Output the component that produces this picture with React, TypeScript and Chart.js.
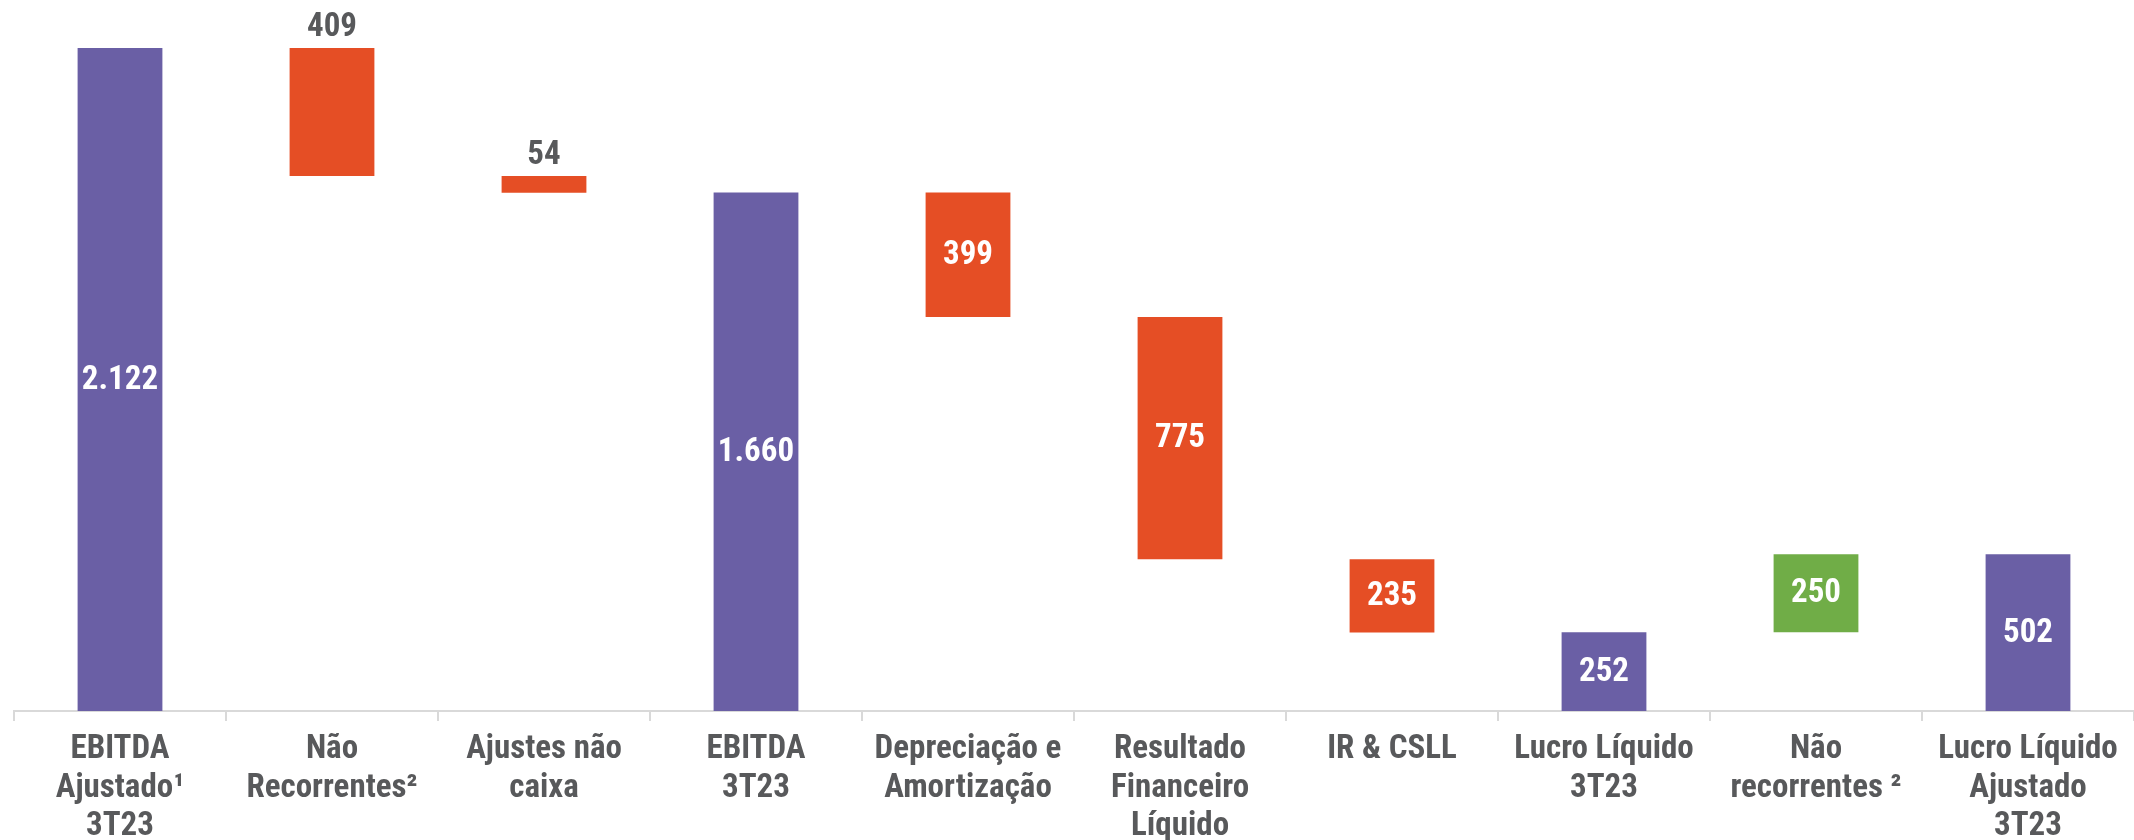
import React, { useEffect, useRef } from "react";
import { Chart, registerables } from "chart.js";

Chart.register(...registerables);

const categories: string[][] = [
  ["EBITDA", "Ajustado¹", "3T23"],
  ["Não", "Recorrentes²"],
  ["Ajustes não", "caixa"],
  ["EBITDA", "3T23"],
  ["Depreciação e", "Amortização"],
  ["Resultado", "Financeiro", "Líquido"],
  ["IR & CSLL"],
  ["Lucro Líquido", "3T23"],
  ["Não", "recorrentes ²"],
  ["Lucro Líquido", "Ajustado", "3T23"],
];

// "total" bars start at zero; "delta" bars float from the running level
const kinds = ["total", "delta", "delta", "total", "delta", "delta", "delta", "total", "delta", "total"];
const values = [2122, -409, -54, 1660, -399, -775, -235, 252, 250, 502];
const labelOutside = [false, true, true, false, false, false, false, false, false, false];

const PURPLE = "#6A5FA5";
const ORANGE = "#E54E25";
const GREEN = "#70AD47";
const GRAY = "#58595B";
const FONT = "'Roboto Condensed', 'Liberation Sans Narrow', 'DejaVu Sans Condensed', 'Noto Sans', sans-serif";

function buildRanges() {
  let level = 0;
  return values.map((v, i) => {
    if (kinds[i] === "total") {
      level = v;
      return [0, v];
    }
    const start = level;
    level = level + v;
    return [start, level];
  });
}

function colorFor(i: number) {
  if (kinds[i] === "total") return PURPLE;
  return values[i] < 0 ? ORANGE : GREEN;
}

function fmt(v: number) {
  const a = Math.abs(v);
  return a >= 1000 ? Math.floor(a / 1000) + "." + String(a % 1000).padStart(3, "0") : String(a);
}

const labelPlugin = {
  id: "wfLabels",
  afterDatasetsDraw(chart: any) {
    const ctx = chart.ctx;
    const meta = chart.getDatasetMeta(0);
    ctx.save();
    ctx.font = `bold 33px ${FONT}`;
    ctx.textAlign = "center";
    ctx.textBaseline = "middle";
    meta.data.forEach((bar: any, i: number) => {
      const top = Math.min(bar.y, bar.base);
      const bottom = Math.max(bar.y, bar.base);
      const text = fmt(values[i]);
      if (labelOutside[i]) {
        ctx.fillStyle = GRAY;
        ctx.fillText(text, bar.x, top - 20);
      } else {
        ctx.fillStyle = "#FFFFFF";
        ctx.fillText(text, bar.x, (top + bottom) / 2 + 1);
      }
    });
    ctx.restore();
  },
};

export default function App() {
  const ref = useRef<HTMLCanvasElement | null>(null);
  useEffect(() => {
    if (!ref.current) return;
    const chart = new Chart(ref.current, {
      type: "bar",
      data: {
        labels: categories,
        datasets: [
          {
            data: buildRanges() as any,
            backgroundColor: values.map((_, i) => colorFor(i)),
            borderWidth: 0,
            barPercentage: 0.8,
            categoryPercentage: 0.5,
            grouped: false,
          },
        ],
      },
      options: {
        responsive: false,
        animation: false,
        layout: { padding: { left: 14, right: 0, top: 0, bottom: 0 } },
        plugins: { legend: { display: false }, tooltip: { enabled: false } },
        scales: {
          y: { display: false, min: 0, max: 2276 },
          x: {
            afterFit: (scale: any) => {
              scale.height = 129;
            },
            grid: {
              display: true,
              drawOnChartArea: false,
              drawTicks: true,
              tickLength: 10,
              color: "#D9D9D9",
              lineWidth: 2,
              offset: true,
            },
            border: { display: true, color: "#D9D9D9", width: 2 },
            ticks: {
              color: GRAY,
              padding: 10,
              maxRotation: 0,
              autoSkip: false,
              font: { family: FONT, size: 33, weight: "bold", lineHeight: 1.16 },
            },
          },
        },
      },
      plugins: [labelPlugin],
    });
    return () => chart.destroy();
  }, []);
  return (
    <div style={{ position: "fixed", left: 0, top: 0, width: 2134, height: 840, background: "#fff" }}>
      <canvas ref={ref} width={2134} height={840} style={{ display: "block" }} />
    </div>
  );
}
